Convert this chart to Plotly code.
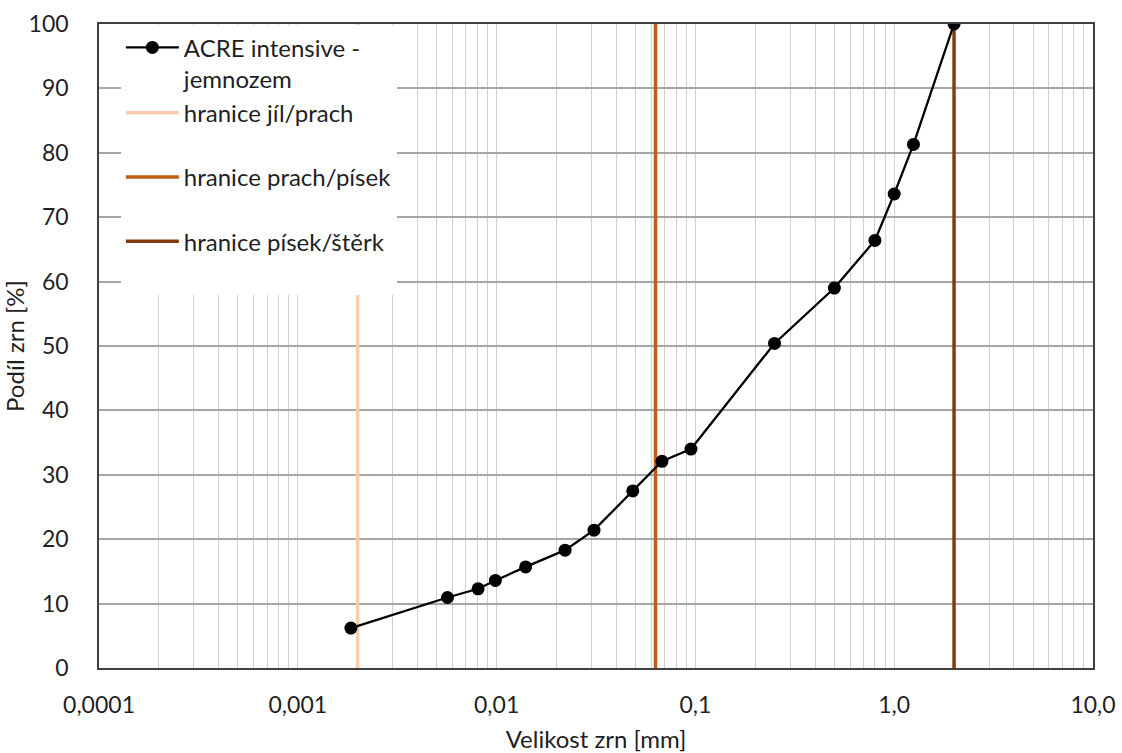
import plotly.graph_objects as go

# data
grain_size_mm = [0.00185, 0.00566, 0.00807, 0.00986, 0.0140, 0.0221, 0.0309, 0.0484,
                 0.0679, 0.095, 0.25, 0.5, 0.8, 1.0, 1.25, 2.0]
share_pct = [6.2, 10.95, 12.3, 13.6, 15.7, 18.3, 21.4, 27.5,
             32.1, 34.0, 50.4, 59.0, 66.4, 73.6, 81.3, 100.0]
series_name = "ACRE intensive -<br>jemnozem"

boundary_names = ["hranice jíl/prach", "hranice prach/písek", "hranice písek/štěrk<br> "]
boundary_x = [0.002, 0.063, 2.0]
boundary_y = [0, 100]
boundary_colors = ["#F8CBAD", "#C55A11", "#843C0C"]
boundary_groups = ["a", "b", "c"]

x_tickvals = [0.0001, 0.001, 0.01, 0.1, 1.0, 10.0]
x_ticktext = ["0,0001", "0,001", "0,01", "0,1", "1,0", "10,0"]
y_tickvals = list(range(0, 101, 10))

FONT = "Lato, Carlito, Calibri, sans-serif"
TXT = "#1F1F1F"

fig = go.Figure()
for i, (nm, bx, col, grp) in enumerate(zip(boundary_names, boundary_x, boundary_colors, boundary_groups)):
    fig.add_trace(go.Scatter(
        x=[bx, bx], y=boundary_y, mode="lines", name=nm,
        line=dict(color=col, width=3.5), legendgroup=grp,
        legendrank=2 + i))
fig.add_trace(go.Scatter(
    x=grain_size_mm, y=share_pct, mode="lines+markers", name=series_name,
    line=dict(color="black", width=2.3), marker=dict(color="black", size=13),
    legendgroup="a", legendrank=1))

fig.update_layout(
    width=1122, height=753,
    margin=dict(l=99, r=29, t=24, b=85),
    paper_bgcolor="white", plot_bgcolor="white",
    font=dict(family=FONT, size=23, color=TXT),
    showlegend=True,
    legend=dict(
        x=0.022, y=0.998, xanchor="left", yanchor="top",
        bgcolor="white", borderwidth=0,
        font=dict(family=FONT, size=24, color=TXT),
        traceorder="grouped", tracegroupgap=30, itemwidth=53,
        valign="top",
    ),
    xaxis=dict(
        type="log", range=[-4, 1], automargin=False,
        tickmode="array", tickvals=x_tickvals, ticktext=x_ticktext,
        showgrid=True, gridcolor="#CFCFCF", gridwidth=1.2,
        minor=dict(showgrid=True, gridcolor="#CFCFCF", gridwidth=1.2, dtick="D1"),
        showline=True, linecolor="#404040", linewidth=1.5, mirror=True,
        ticks="", ticklabelstandoff=16,
        tickfont=dict(size=23, color=TXT),
        title=dict(text="Velikost zrn [mm]", standoff=15, font=dict(size=24, color=TXT)),
        zeroline=False,
    ),
    yaxis=dict(
        range=[0, 100], tickvals=y_tickvals, automargin=False,
        showgrid=True, gridcolor="#A6A6A6", gridwidth=1.5,
        showline=True, linecolor="#404040", linewidth=1.5, mirror=True,
        ticks="", ticklabelstandoff=24,
        tickfont=dict(size=23, color=TXT),
        title=dict(text="Podíl zrn [%]", standoff=2, font=dict(size=24, color=TXT)),
        zeroline=False,
    ),
)

fig.write_html("out.html")
